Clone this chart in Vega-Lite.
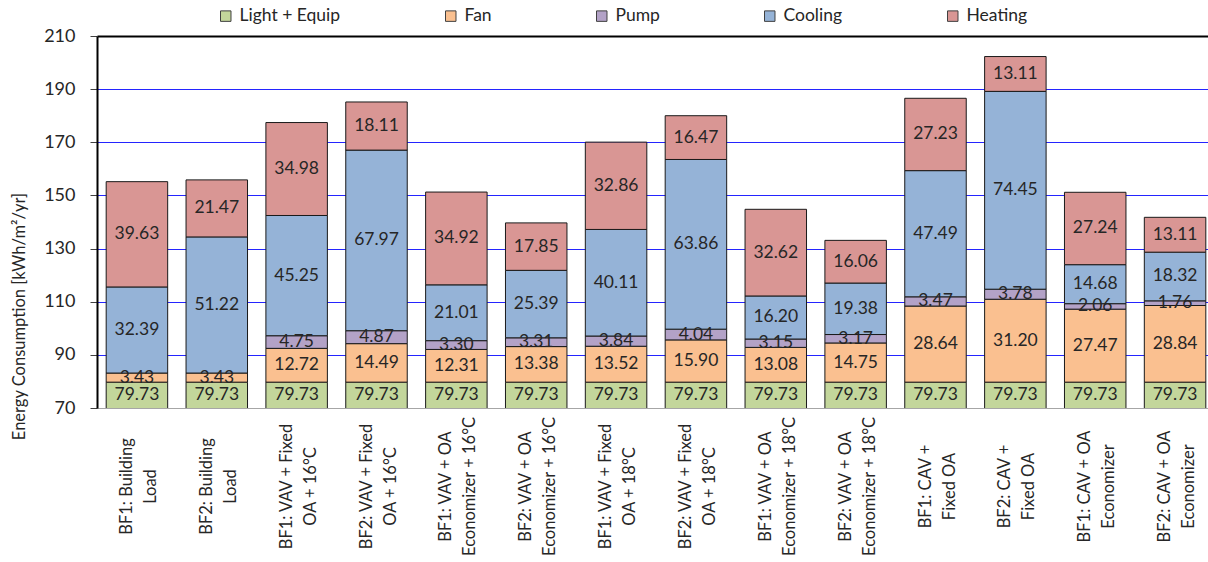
{
  "$schema": "https://vega.github.io/schema/vega-lite/v6.json",
  "autosize": {"type": "none"},
  "padding": {"left": 97, "top": 36, "right": 0, "bottom": 154},
  "width": 1118,
  "height": 372,
  "background": "white",
  "config": {"font": "Lato", "view": {"stroke": null}},
  "data": {
    "values": [
      {"cat": "BF1: Building\nLoad", "Light + Equip": 79.73, "Fan": 3.43, "Cooling": 32.39, "Heating": 39.63},
      {"cat": "BF2: Building\nLoad", "Light + Equip": 79.73, "Fan": 3.43, "Cooling": 51.22, "Heating": 21.47},
      {"cat": "BF1: VAV + Fixed\nOA + 16°C", "Light + Equip": 79.73, "Fan": 12.72, "Pump": 4.75, "Cooling": 45.25, "Heating": 34.98},
      {"cat": "BF2: VAV + Fixed\nOA + 16°C", "Light + Equip": 79.73, "Fan": 14.49, "Pump": 4.87, "Cooling": 67.97, "Heating": 18.11},
      {"cat": "BF1: VAV + OA\nEconomizer + 16°C", "Light + Equip": 79.73, "Fan": 12.31, "Pump": 3.30, "Cooling": 21.01, "Heating": 34.92},
      {"cat": "BF2: VAV + OA\nEconomizer + 16°C", "Light + Equip": 79.73, "Fan": 13.38, "Pump": 3.31, "Cooling": 25.39, "Heating": 17.85},
      {"cat": "BF1: VAV + Fixed\nOA + 18°C", "Light + Equip": 79.73, "Fan": 13.52, "Pump": 3.84, "Cooling": 40.11, "Heating": 32.86},
      {"cat": "BF2: VAV + Fixed\nOA + 18°C", "Light + Equip": 79.73, "Fan": 15.90, "Pump": 4.04, "Cooling": 63.86, "Heating": 16.47},
      {"cat": "BF1: VAV + OA\nEconomizer + 18°C", "Light + Equip": 79.73, "Fan": 13.08, "Pump": 3.15, "Cooling": 16.20, "Heating": 32.62},
      {"cat": "BF2: VAV + OA\nEconomizer + 18°C", "Light + Equip": 79.73, "Fan": 14.75, "Pump": 3.17, "Cooling": 19.38, "Heating": 16.06},
      {"cat": "BF1: CAV +\nFixed OA", "Light + Equip": 79.73, "Fan": 28.64, "Pump": 3.47, "Cooling": 47.49, "Heating": 27.23},
      {"cat": "BF2: CAV +\nFixed OA", "Light + Equip": 79.73, "Fan": 31.20, "Pump": 3.78, "Cooling": 74.45, "Heating": 13.11},
      {"cat": "BF1: CAV + OA\nEconomizer", "Light + Equip": 79.73, "Fan": 27.47, "Pump": 2.06, "Cooling": 14.68, "Heating": 27.24},
      {"cat": "BF2: CAV + OA\nEconomizer", "Light + Equip": 79.73, "Fan": 28.84, "Pump": 1.76, "Cooling": 18.32, "Heating": 13.11}
    ]
  },
  "transform": [
    {"fold": ["Light + Equip", "Fan", "Pump", "Cooling", "Heating"], "as": ["type", "value"]},
    {"filter": "isValid(datum.value)"},
    {"calculate": "indexof(['Light + Equip','Fan','Pump','Cooling','Heating'], datum.type)", "as": "k"},
    {"stack": "value", "groupby": ["cat"], "sort": [{"field": "k", "order": "ascending"}], "as": ["v0", "v1"]},
    {"calculate": "(max(datum.v0, 70) + datum.v1) / 2", "as": "mid"}
  ],
  "encoding": {
    "x": {
      "field": "cat",
      "type": "nominal",
      "sort": null,
      "scale": {"paddingInner": 0.23, "paddingOuter": 0.115},
      "axis": {
        "title": null,
        "ticks": false,
        "domain": false,
        "labelAngle": 270,
        "labelAlign": "center",
        "labelBaseline": "middle",
        "labelPadding": 78,
        "labelOffset": -10,
        "labelFontSize": 16.5,
        "labelLineHeight": 24,
        "labelColor": "#262626",
        "labelLimit": 400,
        "labelExpr": "split(datum.label, '\\n')"
      }
    }
  },
  "layer": [
    {
      "mark": {"type": "bar", "clip": true, "stroke": "#1a1a1a", "strokeWidth": 1},
      "encoding": {
        "y": {
          "field": "v1",
          "type": "quantitative",
          "scale": {"domain": [70, 210], "zero": false, "nice": false},
          "axis": {
            "values": [70, 75, 80, 85, 90, 95, 100, 105, 110, 115, 120, 125, 130, 135, 140, 145, 150, 155, 160, 165, 170, 175, 180, 185, 190, 195, 200, 205, 210],
            "grid": true,
            "gridColor": {"condition": [{"test": "datum.value == 210", "value": "#000000"}, {"test": "(datum.value - 70) % 20 == 0 && datum.value > 70", "value": "#2424ff"}], "value": "#a6a6a6"},
            "gridWidth": {"condition": {"test": "datum.value == 210", "value": 2}, "value": 1},
            "tickOpacity": {"condition": {"test": "(datum.value - 70) % 20 == 0", "value": 1}, "value": 0},
            "labelExpr": "(datum.value - 70) % 20 == 0 ? datum.label : ''",
            "labelOverlap": false,
            "labelFlush": false,
            "tickSize": 7,
            "tickColor": "#404040",
            "domainColor": "#000000",
            "domainWidth": 2,
            "labelFontSize": 18,
            "labelPadding": 15,
            "labelColor": "#262626",
            "title": "Energy Consumption [kWh/m²/yr]",
            "titleFontSize": 16.5,
            "titleFontWeight": "normal",
            "titleColor": "#262626",
            "titleAngle": 270,
            "titleX": -78,
            "titleY": 280,
            "titleAlign": "center",
            "titleBaseline": "middle"
          }
        },
        "y2": {"field": "v0"},
        "color": {
          "field": "type",
          "type": "nominal",
          "scale": {
            "domain": ["Light + Equip", "Fan", "Pump", "Cooling", "Heating"],
            "range": ["#c3d69b", "#fac090", "#b3a2c7", "#95b3d7", "#d99694"]
          },
          "legend": {
            "orient": "none",
            "legendX": 120,
            "legendY": -29,
            "direction": "horizontal",
            "title": null,
            "padding": 0,
            "columnPadding": 101,
            "symbolType": "square",
            "symbolSize": 110,
            "symbolStrokeColor": "#404040",
            "symbolStrokeWidth": 1,
            "labelFontSize": 17.5,
            "labelColor": "#262626",
            "labelOffset": 5
          }
        }
      }
    },
    {
      "mark": {"type": "text", "fontSize": 17.5, "color": "#262626", "align": "center", "baseline": "middle"},
      "encoding": {
        "y": {"field": "mid", "type": "quantitative"},
        "text": {"field": "value", "type": "quantitative", "format": ".2f"}
      }
    }
  ]
}
